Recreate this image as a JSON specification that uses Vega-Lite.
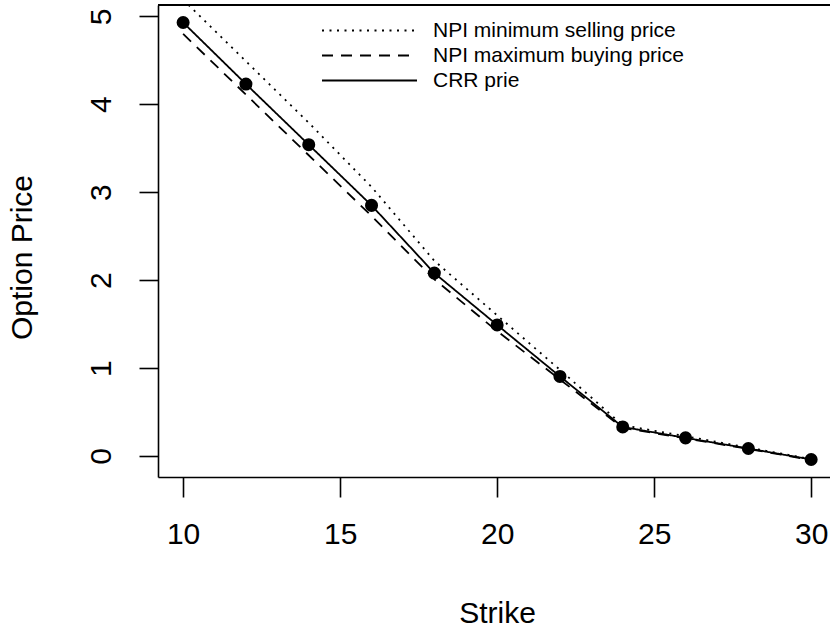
{
  "$schema": "https://vega.github.io/schema/vega-lite/v6.json",
  "width": 672,
  "height": 472,
  "autosize": {"type": "none"},
  "padding": {"left": 158, "top": 5, "right": 0, "bottom": 153},
  "background": "white",
  "config": {
    "view": {"stroke": null},
    "font": "Liberation Sans",
    "axis": {
      "grid": false,
      "domainColor": "black",
      "domainWidth": 1.6,
      "tickColor": "black",
      "tickWidth": 1.6,
      "labelColor": "black",
      "titleColor": "black",
      "labelFont": "Liberation Sans",
      "titleFont": "Liberation Sans",
      "labelFontSize": 30,
      "titleFontSize": 30,
      "titleFontWeight": "normal"
    }
  },
  "datasets": {
    "prices": [
      {"strike": 10, "price": 5.19, "series": "NPI minimum selling price"},
      {"strike": 12, "price": 4.49, "series": "NPI minimum selling price"},
      {"strike": 14, "price": 3.79, "series": "NPI minimum selling price"},
      {"strike": 16, "price": 3.06, "series": "NPI minimum selling price"},
      {"strike": 18, "price": 2.22, "series": "NPI minimum selling price"},
      {"strike": 20, "price": 1.60, "series": "NPI minimum selling price"},
      {"strike": 22, "price": 0.98, "series": "NPI minimum selling price"},
      {"strike": 24, "price": 0.35, "series": "NPI minimum selling price"},
      {"strike": 26, "price": 0.225, "series": "NPI minimum selling price"},
      {"strike": 28, "price": 0.095, "series": "NPI minimum selling price"},
      {"strike": 30, "price": -0.035, "series": "NPI minimum selling price"},
      {"strike": 10, "price": 4.80, "series": "NPI maximum buying price"},
      {"strike": 12, "price": 4.11, "series": "NPI maximum buying price"},
      {"strike": 14, "price": 3.42, "series": "NPI maximum buying price"},
      {"strike": 16, "price": 2.73, "series": "NPI maximum buying price"},
      {"strike": 18, "price": 2.01, "series": "NPI maximum buying price"},
      {"strike": 20, "price": 1.42, "series": "NPI maximum buying price"},
      {"strike": 22, "price": 0.87, "series": "NPI maximum buying price"},
      {"strike": 24, "price": 0.32, "series": "NPI maximum buying price"},
      {"strike": 26, "price": 0.20, "series": "NPI maximum buying price"},
      {"strike": 28, "price": 0.08, "series": "NPI maximum buying price"},
      {"strike": 30, "price": -0.045, "series": "NPI maximum buying price"},
      {"strike": 10, "price": 4.93, "series": "CRR prie"},
      {"strike": 12, "price": 4.23, "series": "CRR prie"},
      {"strike": 14, "price": 3.54, "series": "CRR prie"},
      {"strike": 16, "price": 2.85, "series": "CRR prie"},
      {"strike": 18, "price": 2.08, "series": "CRR prie"},
      {"strike": 20, "price": 1.49, "series": "CRR prie"},
      {"strike": 22, "price": 0.905, "series": "CRR prie"},
      {"strike": 24, "price": 0.33, "series": "CRR prie"},
      {"strike": 26, "price": 0.206, "series": "CRR prie"},
      {"strike": 28, "price": 0.085, "series": "CRR prie"},
      {"strike": 30, "price": -0.04, "series": "CRR prie"}
    ]
  },
  "data": {"name": "prices"},
  "layer": [
    {
      "mark": {"type": "line", "clip": true, "color": "black", "strokeWidth": 1.8},
      "encoding": {
        "x": {
          "field": "strike", "type": "quantitative",
          "scale": {"domain": [9.2, 30.6], "nice": false, "zero": false},
          "axis": {
            "values": [10, 15, 20, 25, 30],
            "format": "d",
            "tickSize": 20,
            "labelPadding": 46,
            "labelBaseline": "alphabetic",
            "labelFlush": false,
            "labelOverlap": false,
            "title": "Strike",
            "titleX": 339,
            "titleY": 145.5,
            "titleBaseline": "alphabetic",
            "titleAlign": "center",
            "titleAnchor": null
          }
        },
        "y": {
          "field": "price", "type": "quantitative",
          "scale": {"domain": [-0.239, 5.129], "nice": false, "zero": false},
          "axis": {
            "values": [0, 1, 2, 3, 4, 5],
            "format": "d",
            "tickSize": 19,
            "labelPadding": 29,
            "labelAngle": 270,
            "labelAlign": "center",
            "labelBaseline": "alphabetic",
            "labelFlush": false,
            "labelOverlap": false,
            "title": "Option Price",
            "titleX": -127,
            "titleY": 252,
            "titleAngle": 270,
            "titleBaseline": "alphabetic",
            "titleAlign": "center",
            "titleAnchor": null
          }
        },
        "strokeDash": {
          "field": "series", "type": "nominal",
          "scale": {
            "domain": ["NPI minimum selling price", "NPI maximum buying price", "CRR prie"],
            "range": [[2, 5.5], [11, 8], [1, 0]]
          },
          "legend": {
            "title": null,
            "orient": "none",
            "legendX": 163,
            "legendY": 13,
            "padding": 0,
            "symbolType": "stroke",
            "symbolSize": 9025,
            "symbolStrokeWidth": 2,
            "symbolStrokeColor": "black",
            "clipHeight": 25,
            "rowPadding": 0,
            "labelOffset": 15,
            "labelFontSize": 21,
            "labelFont": "Liberation Sans",
            "labelColor": "black",
            "labelLimit": 400
          }
        }
      }
    },
    {
      "transform": [{"filter": "datum.series === 'CRR prie'"}],
      "mark": {"type": "circle", "size": 170, "color": "black", "opacity": 1},
      "encoding": {
        "x": {"field": "strike", "type": "quantitative"},
        "y": {"field": "price", "type": "quantitative"}
      }
    },
    {
      "mark": {"type": "rule", "color": "black", "strokeWidth": 1.6},
      "encoding": {"y": {"datum": 5.129}}
    }
  ]
}
